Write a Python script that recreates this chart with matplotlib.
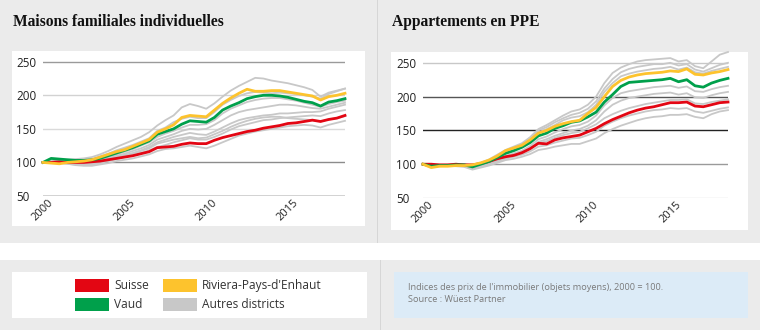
import numpy as np
import matplotlib
matplotlib.use("Agg")
import matplotlib.pyplot as plt
from matplotlib.patches import Rectangle

# ---------------------------------------------------------------- data
years = np.arange(2000.0, 2018.75, 0.5)

# Maisons familiales individuelles
maisons_suisse = [100, 100, 101, 100, 100, 100, 101, 102, 104, 106, 108, 110, 113, 116, 122, 123,
                  124, 127, 129, 128, 128, 133, 137, 140, 143, 146, 148, 151, 153, 155, 158, 159,
                  161, 163, 161, 164, 166, 170]
maisons_vaud = [100, 106, 105, 104, 103, 103, 104, 106, 110, 114, 118, 122, 127, 132, 142, 146,
                150, 157, 162, 161, 160, 167, 178, 184, 189, 195, 198, 200, 200, 199, 197, 194,
                191, 189, 184, 190, 192, 195]
maisons_riviera = [100, 99, 98, 100, 101, 102, 104, 108, 112, 116, 119, 124, 129, 134, 145, 150,
                   156, 167, 170, 169, 168, 178, 188, 196, 203, 209, 206, 206, 207, 207, 205, 203,
                   201, 199, 193, 198, 200, 203]
maisons_autres = [
    [100, 104, 104, 104, 105, 106, 108, 112, 117, 123, 128, 133, 138, 145, 155, 163,
     170, 182, 187, 184, 180, 188, 198, 207, 214, 220, 226, 225, 222, 220, 218, 215,
     212, 208, 198, 204, 207, 210],
    [100, 103, 103, 102, 103, 104, 105, 109, 113, 118, 122, 126, 131, 136, 147, 152,
     160, 165, 168, 166, 166, 175, 186, 193, 199, 203, 205, 204, 203, 204, 203, 202,
     200, 198, 195, 202, 206, 210],
    [100, 102, 102, 101, 101, 102, 103, 105, 109, 112, 116, 120, 125, 130, 138, 143,
     147, 152, 156, 156, 157, 163, 173, 180, 185, 190, 193, 195, 196, 196, 194, 192,
     189, 186, 183, 187, 190, 192],
    [100, 101, 101, 100, 100, 100, 101, 104, 107, 110, 113, 117, 121, 126, 134, 138,
     142, 147, 150, 149, 150, 156, 163, 170, 175, 178, 180, 182, 184, 186, 186, 185,
     183, 181, 180, 183, 186, 189],
    [100, 101, 100, 99, 99, 98, 99, 102, 105, 108, 111, 114, 118, 123, 130, 134,
     138, 141, 144, 142, 141, 146, 152, 158, 163, 166, 168, 170, 171, 173, 173, 174,
     175, 175, 176, 180, 183, 186],
    [100, 101, 101, 100, 99, 98, 98, 100, 103, 106, 110, 113, 117, 121, 128, 131,
     134, 136, 138, 136, 137, 142, 147, 153, 158, 162, 165, 167, 168, 168, 166, 165,
     164, 163, 161, 164, 166, 169],
    [100, 100, 100, 98, 97, 96, 97, 99, 102, 105, 108, 111, 114, 118, 123, 126,
     130, 133, 136, 134, 134, 138, 143, 149, 154, 157, 160, 163, 164, 166, 167, 168,
     169, 170, 169, 173, 176, 178],
    [100, 100, 99, 98, 96, 95, 95, 97, 99, 102, 104, 106, 109, 112, 117, 120,
     121, 123, 125, 123, 121, 125, 130, 135, 140, 143, 146, 148, 150, 152, 154, 155,
     156, 155, 152, 156, 159, 162],
]

# Appartements en PPE
ppe_suisse = [100, 100, 99, 99, 100, 99, 99, 101, 104, 108, 111, 113, 117, 123, 131, 130,
              136, 139, 141, 143, 148, 153, 160, 166, 171, 176, 180, 183, 185, 188, 191, 191,
              192, 186, 185, 188, 191, 192]
ppe_vaud = [100, 97, 98, 98, 99, 99, 96, 100, 104, 110, 116, 120, 125, 132, 142, 146,
            153, 157, 162, 164, 170, 177, 192, 203, 215, 221, 222, 223, 224, 225, 227, 222,
            225, 216, 214, 220, 224, 227]
ppe_riviera = [100, 95, 97, 97, 98, 98, 99, 102, 106, 112, 120, 124, 128, 136, 146, 150,
               156, 160, 163, 165, 175, 184, 200, 215, 224, 229, 232, 234, 235, 236, 238, 237,
               241, 233, 232, 235, 237, 240]
ppe_autres = [
    [100, 99, 99, 99, 100, 100, 99, 102, 107, 114, 121, 126, 131, 140, 152, 158,
     165, 172, 178, 181, 188, 200, 220, 235, 243, 248, 252, 254, 255, 256, 257, 252,
     254, 245, 242, 252, 262, 266],
    [100, 98, 98, 98, 99, 100, 98, 101, 105, 112, 119, 124, 128, 137, 150, 155,
     162, 168, 173, 176, 182, 193, 212, 226, 236, 241, 244, 246, 248, 248, 250, 246,
     248, 240, 237, 242, 247, 250],
    [100, 98, 97, 98, 99, 99, 97, 101, 105, 111, 117, 122, 127, 135, 147, 152,
     158, 165, 169, 171, 177, 188, 207, 220, 230, 234, 237, 239, 241, 242, 244, 240,
     243, 236, 234, 238, 241, 244],
    [100, 99, 99, 99, 98, 98, 95, 98, 102, 107, 112, 116, 120, 127, 137, 141,
     147, 152, 156, 158, 163, 172, 187, 198, 205, 208, 210, 212, 214, 215, 216, 213,
     215, 208, 207, 211, 214, 216],
    [100, 99, 98, 98, 98, 97, 94, 97, 101, 106, 110, 114, 118, 124, 133, 137,
     142, 146, 150, 152, 157, 165, 178, 188, 194, 198, 200, 202, 204, 205, 206, 203,
     205, 199, 198, 202, 205, 207],
    [100, 99, 99, 99, 100, 100, 97, 100, 103, 107, 111, 114, 118, 124, 131, 134,
     139, 143, 146, 148, 153, 159, 168, 174, 179, 183, 186, 189, 191, 193, 195, 195,
     196, 190, 189, 192, 194, 196],
    [100, 99, 99, 98, 98, 98, 94, 97, 100, 104, 108, 111, 114, 119, 126, 128,
     132, 135, 138, 139, 143, 148, 157, 163, 168, 172, 175, 178, 180, 181, 183, 182,
     183, 178, 176, 179, 182, 184],
    [100, 99, 98, 98, 97, 96, 92, 95, 98, 102, 106, 108, 111, 115, 121, 123,
     126, 128, 130, 130, 134, 138, 146, 152, 157, 161, 165, 168, 170, 171, 173, 173,
     174, 170, 168, 174, 178, 180],
]

titles = ["Maisons familiales individuelles", "Appartements en PPE"]
y_ticks = [50, 100, 150, 200, 250]
x_ticks = [2000, 2005, 2010, 2015]
legend_labels = ["Suisse", "Vaud", "Riviera-Pays-d'Enhaut", "Autres districts"]
note_lines = ["Indices des prix de l'immobilier (objets moyens), 2000 = 100.",
              "Source : Wüest Partner"]

# ---------------------------------------------------------------- style
RED = "#e30613"
GREEN = "#00a04b"
YELLOW = "#fdc32d"
GREY = "#c8c8c8"
BG = "#ebebeb"
W, H = 760, 330

SANS = ["Open Sans", "DejaVu Sans"]
SERIF = ["Liberation Serif", "DejaVu Serif"]

fig = plt.figure(figsize=(W / 100, H / 100), dpi=100, facecolor=BG)


def box(x0, y0, x1, y1, color, z=-10):
    """Rectangle given in pixel coordinates measured from the top-left corner."""
    fig.patches.append(Rectangle((x0 / W, 1 - y1 / H), (x1 - x0) / W, (y1 - y0) / H,
                                 transform=fig.transFigure, facecolor=color,
                                 edgecolor="none", zorder=z))


def ftext(x, y, s, **kw):
    fig.text(x / W, 1 - y / H, s, **kw)


# page structure
box(0, 243, W, 260, "white")
box(377, 0, 378, 243, "#d6d6d6")
box(380, 260, 381, H, "#d6d6d6")
box(12, 51, 365, 226, "white")
box(391, 52, 748, 230, "white")
box(12, 272, 367, 318, "white")
box(394, 272, 748, 318, "#dcebf7")

ftext(13, 22, titles[0], fontsize=11.2, fontweight="bold", family=SERIF,
      color="#111111", va="center", ha="left")
ftext(392, 22, titles[1], fontsize=11.2, fontweight="bold", family=SERIF,
      color="#111111", va="center", ha="left")

panels = [
    dict(rect=(43, 51, 345, 196), suisse=maisons_suisse, vaud=maisons_vaud,
         riviera=maisons_riviera, autres=maisons_autres,
         grid={50: "#222222", 100: "#8c8c8c", 150: "#dadada", 200: "#d2d2d2", 250: "#9a9a9a"}),
    dict(rect=(423, 52, 728, 198), suisse=ppe_suisse, vaud=ppe_vaud,
         riviera=ppe_riviera, autres=ppe_autres,
         grid={50: "#e0e0e0", 100: "#9a9a9a", 150: "#222222", 200: "#555555", 250: "#c8c8c8"}),
]

for p in panels:
    x0, y0, x1, y1 = p["rect"]
    ax = fig.add_axes([x0 / W, 1 - y1 / H, (x1 - x0) / W, (y1 - y0) / H], zorder=5)
    ax.set_facecolor("none")
    ax.set_xlim(2000, 2018.5)
    ax.set_ylim(50, 266)
    for s in ax.spines.values():
        s.set_visible(False)
    for level in y_ticks:
        ax.axhline(level, color=p["grid"][level], lw=1.0, zorder=1)
    for series in p["autres"]:
        ax.plot(years, series, color=GREY, lw=1.3, zorder=2, clip_on=False,
                solid_joinstyle="round")
    ax.plot(years, p["suisse"], color=RED, lw=2.0, zorder=3, clip_on=False)
    ax.plot(years, p["vaud"], color=GREEN, lw=2.0, zorder=4, clip_on=False)
    ax.plot(years, p["riviera"], color=YELLOW, lw=2.0, zorder=5, clip_on=False)

    ax.set_yticks(y_ticks)
    ax.set_yticklabels([str(v) for v in y_ticks], family=SANS, fontsize=8.4, color="#222222")
    for lab in ax.get_yticklabels():
        lab.set_ha("left")
    ax.tick_params(axis="y", length=0, pad=19.5)
    ax.set_xticks(x_ticks)
    ax.set_xticklabels([str(v) for v in x_ticks], family=SANS, fontsize=8.0,
                       color="#222222", rotation=45, ha="center", va="top")
    ax.tick_params(axis="x", length=0, pad=1)

# legend
swatches = [(75, 279, RED), (75, 298, GREEN), (163, 279, YELLOW), (163, 298, GREY)]
for (sx, sy, col), lab in zip(swatches, legend_labels):
    box(sx, sy, sx + 34, sy + 13, col, z=1)
    ftext(sx + 39, sy + 6.5, lab, family=SANS, fontsize=8.6, color="#333333",
          va="center", ha="left")

# note
ftext(408, 287, note_lines[0], family=SANS, fontsize=6.6, color="#7a7a7a", va="center", ha="left")
ftext(408, 300, note_lines[1], family=SANS, fontsize=6.6, color="#7a7a7a", va="center", ha="left")

fig.savefig("out.png", dpi=100, facecolor=BG)
